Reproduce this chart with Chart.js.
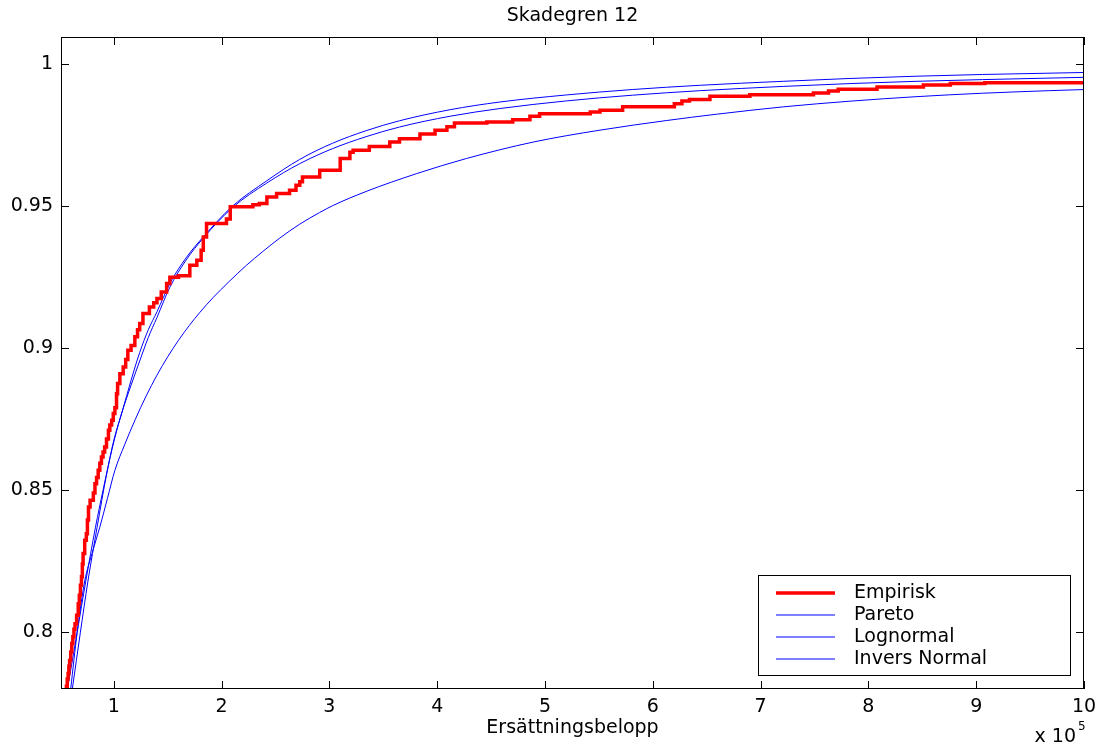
<!DOCTYPE html>
<html><head><meta charset="utf-8">
<script src="https://cdn.jsdelivr.net/npm/chart.js@4"></script>
<style>html,body{margin:0;padding:0;background:#fff}#wrap{width:1104px;height:749px}</style>
</head><body><div id="wrap"><canvas id="c" width="1104" height="749"></canvas></div>
<script>
// x values in units of 1e5 (axis shows "x 10^5")
const titleText = 'Skadegren 12';
const xLabel = 'Ersättningsbelopp';
const seriesNames = ['Empirisk', 'Pareto', 'Lognormal', 'Invers Normal'];
const xTicks = [1, 2, 3, 4, 5, 6, 7, 8, 9, 10];
const yTicks = [0.8, 0.85, 0.9, 0.95, 1];

const empX = [0.545,0.56,0.568,0.576,0.583,0.59,0.60,0.61,0.62,0.63,0.64,0.655,0.67,0.68,0.69,0.70,0.708,0.715,0.73,0.745,0.755,0.765,0.78,0.81,0.825,0.84,0.855,0.87,0.885,0.90,0.915,0.932,0.95,0.963,0.98,0.995,1.01,1.025,1.035,1.056,1.087,1.11,1.13,1.16,1.195,1.22,1.24,1.27,1.33,1.37,1.40,1.44,1.49,1.52,1.60,1.705,1.77,1.81,1.83,1.86,2.045,2.08,2.29,2.35,2.42,2.51,2.63,2.69,2.725,2.75,2.91,3.10,3.19,3.22,3.37,3.56,3.65,3.84,3.98,4.09,4.16,4.46,4.70,4.86,4.95,5.42,5.51,5.72,6.20,6.27,6.34,6.53,6.90,7.49,7.63,7.72,8.08,8.51,8.76,9.08,10.3];
const empY = [0.776,0.781,0.7835,0.7855,0.788,0.790,0.793,0.796,0.7984,0.801,0.803,0.806,0.810,0.813,0.8165,0.8195,0.824,0.8277,0.8324,0.8347,0.8395,0.8441,0.8465,0.849,0.8523,0.8545,0.857,0.8595,0.8617,0.8635,0.8652,0.868,0.8711,0.873,0.8746,0.877,0.879,0.884,0.8876,0.891,0.8934,0.896,0.8993,0.901,0.904,0.9065,0.9087,0.9122,0.9145,0.916,0.9175,0.9198,0.9228,0.925,0.9255,0.9292,0.931,0.9345,0.9392,0.9439,0.9455,0.9498,0.9505,0.951,0.9533,0.9545,0.9556,0.9574,0.9586,0.9603,0.9627,0.9668,0.969,0.9697,0.971,0.9726,0.9738,0.9754,0.9768,0.978,0.9793,0.9797,0.9805,0.9817,0.9826,0.9832,0.9838,0.985,0.9861,0.9871,0.9876,0.9887,0.9893,0.9899,0.9906,0.9912,0.992,0.9927,0.9932,0.9935,0.9935];

const paretoX = [0.57,0.66,0.74,0.83,0.90,0.99,1.06,1.16,1.24,1.32,1.40,1.52,1.67,1.83,2.10,2.42,2.725,3.03,3.34,3.65,4.12,4.58,5.20,5.81,6.44,7.21,7.83,8.45,9.06,10.0];
const paretoY = [0.780,0.800,0.818,0.837,0.850,0.8655,0.8755,0.887,0.8955,0.9038,0.9108,0.9215,0.9310,0.9388,0.9495,0.9582,0.9650,0.9703,0.9745,0.9779,0.9817,0.9844,0.9871,0.9891,0.9907,0.9922,0.9932,0.9940,0.9946,0.9954];

const lognormalX = [0.615,0.69,0.76,0.845,0.93,1.00,1.08,1.16,1.24,1.32,1.40,1.52,1.67,1.83,2.10,2.42,2.725,3.03,3.34,3.65,4.12,4.58,5.20,5.81,6.44,7.21,7.83,8.45,9.06,10.0];
const lognormalY = [0.780,0.800,0.818,0.837,0.855,0.8676,0.878,0.8887,0.8985,0.9065,0.9128,0.9228,0.9318,0.9392,0.9500,0.9590,0.9665,0.9722,0.9766,0.9801,0.9840,0.9867,0.9892,0.9911,0.9926,0.9940,0.9950,0.9958,0.9964,0.9971];

const inversX = [0.60,0.66,0.73,0.80,0.87,0.94,1.01,1.10,1.20,1.30,1.40,1.50,1.60,1.70,1.80,1.92,2.07,2.23,2.38,2.54,2.725,2.91,3.03,3.34,3.81,4.27,4.89,5.51,6.13,6.59,7.21,7.83,8.45,9.06,9.68,10.0];
const inversY = [0.780,0.800,0.818,0.828,0.837,0.847,0.857,0.866,0.875,0.8832,0.8905,0.8970,0.9028,0.9080,0.9127,0.9178,0.9235,0.9292,0.9340,0.9388,0.9437,0.9478,0.9502,0.9552,0.9615,0.9668,0.9726,0.9768,0.9802,0.9824,0.9850,0.9870,0.9886,0.9898,0.9907,0.9911];

const pts = (xs, ys) => xs.map((x, i) => ({x: x, y: ys[i]}));
const FONT = 'DejaVu Sans';

const decor = {
  id: 'decor',
  afterDatasetsDraw(chart) {
    const {ctx, chartArea: a, scales: {x, y}} = chart;
    ctx.save();
    // box
    ctx.strokeStyle = '#000';
    ctx.lineWidth = 1;
    ctx.strokeRect(Math.round(a.left) + 0.5, Math.round(a.top) + 0.5, Math.round(a.right - a.left) - 1, Math.round(a.bottom - a.top) - 1);
    // inward ticks
    ctx.beginPath();
    const tl = 8;
    xTicks.forEach(v => {
      const px = Math.round(x.getPixelForValue(v)) + 0.5;
      ctx.moveTo(px, a.bottom); ctx.lineTo(px, a.bottom - tl);
      ctx.moveTo(px, a.top); ctx.lineTo(px, a.top + tl);
    });
    yTicks.forEach(v => {
      const py = Math.round(y.getPixelForValue(v)) + 0.5;
      ctx.moveTo(a.left, py); ctx.lineTo(a.left + tl, py);
      ctx.moveTo(a.right, py); ctx.lineTo(a.right - tl, py);
    });
    ctx.stroke();
    // title
    const cx = (a.left + a.right) / 2;
    ctx.fillStyle = '#000';
    ctx.textAlign = 'center';
    ctx.textBaseline = 'middle';
    ctx.font = '19px "' + FONT + '"';
    ctx.fillText(titleText, cx, 16);
    // x label
    ctx.font = '19px "' + FONT + '"';
    ctx.fillText(xLabel, cx, 728);
    // exponent
    ctx.textAlign = 'right';
    ctx.fillText('x 10', 1076, 737);
    ctx.textAlign = 'left';
    ctx.font = '12px "' + FONT + '"';
    ctx.fillText('5', 1078, 727);
    // legend
    const bw = 312, bh = 100;
    const bx = a.right - 14 - bw, by = a.bottom - 14 - bh;
    ctx.fillStyle = '#fff';
    ctx.fillRect(bx, by, bw, bh);
    ctx.strokeStyle = '#000';
    ctx.lineWidth = 1;
    ctx.strokeRect(Math.round(bx) + 0.5, Math.round(by) + 0.5, bw, bh);
    ctx.font = '19px "' + FONT + '"';
    ctx.textAlign = 'left';
    ctx.textBaseline = 'middle';
    chart.data.datasets.forEach((ds, i) => {
      const ry = by + 18 + i * 22;
      ctx.strokeStyle = ds.borderColor;
      ctx.lineWidth = ds.borderWidth;
      ctx.beginPath();
      ctx.moveTo(bx + 18, ry); ctx.lineTo(bx + 77, ry);
      ctx.stroke();
      ctx.fillStyle = '#000';
      ctx.fillText(ds.label, bx + 96, ry);
    });
    ctx.restore();
  }
};

new Chart(document.getElementById('c'), {
  type: 'line',
  data: {
    datasets: [
      {label: seriesNames[0], data: pts(empX, empY), borderColor: '#ff0000', borderWidth: 3.5, stepped: true, pointRadius: 0, fill: false, clip: 0},
      {label: seriesNames[1], data: pts(paretoX, paretoY), borderColor: '#0000ff', borderWidth: 1, cubicInterpolationMode: 'monotone', pointRadius: 0, fill: false, clip: 0},
      {label: seriesNames[2], data: pts(lognormalX, lognormalY), borderColor: '#0000ff', borderWidth: 1, cubicInterpolationMode: 'monotone', pointRadius: 0, fill: false, clip: 0},
      {label: seriesNames[3], data: pts(inversX, inversY), borderColor: '#0000ff', borderWidth: 1, cubicInterpolationMode: 'monotone', pointRadius: 0, fill: false, clip: 0}
    ]
  },
  options: {
    responsive: false,
    animation: false,
    devicePixelRatio: 1,
    layout: {padding: {top: 37, right: 20, left: 0, bottom: 0}},
    plugins: {legend: {display: false}, title: {display: false}, tooltip: {enabled: false}},
    scales: {
      x: {
        type: 'linear', min: 0.51, max: 10,
        afterBuildTicks: s => { s.ticks = xTicks.map(v => ({value: v})); },
        afterFit: s => { s.height = 60; },
        grid: {display: false, drawTicks: false},
        border: {display: false},
        ticks: {color: '#000', font: {family: FONT, size: 19}, padding: 7, maxRotation: 0, autoSkip: false, callback: v => String(v)}
      },
      y: {
        type: 'linear', min: 0.78, max: 1.0096,
        afterBuildTicks: s => { s.ticks = yTicks.map(v => ({value: v})); },
        afterFit: s => { s.width = 61; },
        grid: {display: false, drawTicks: false},
        border: {display: false},
        ticks: {color: '#000', font: {family: FONT, size: 19}, padding: 8, autoSkip: false, callback: v => String(v)}
      }
    }
  },
  plugins: [decor]
});
</script>
</body></html>
